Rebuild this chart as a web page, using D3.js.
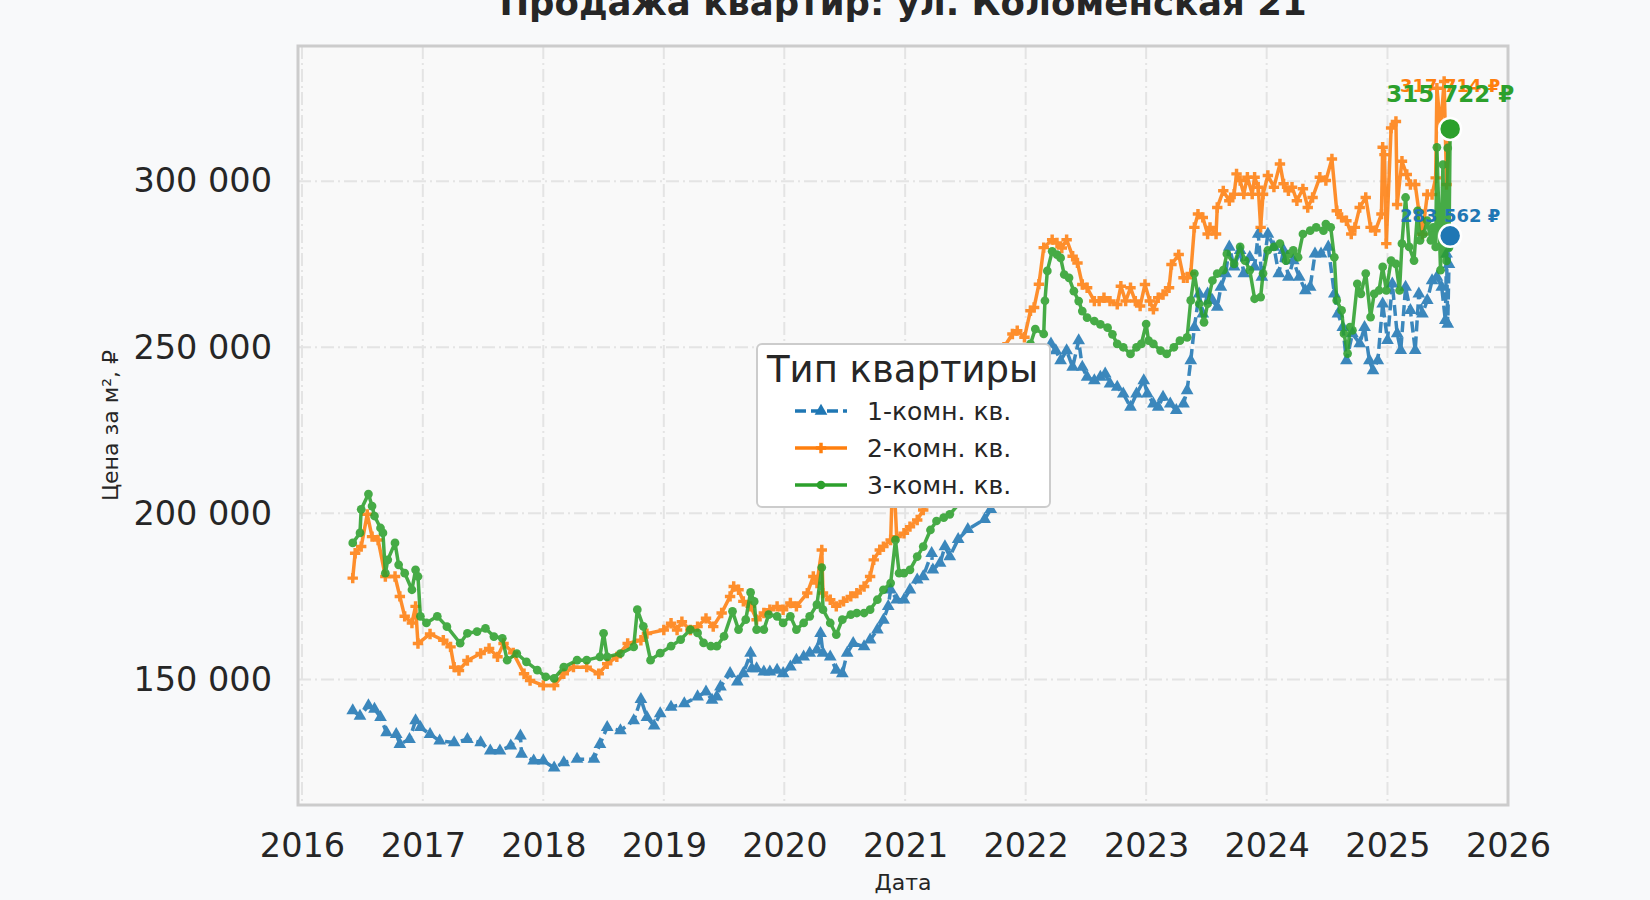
<!DOCTYPE html>
<html>
<head>
<meta charset="utf-8">
<script src="https://cdn.jsdelivr.net/npm/d3@7"></script>
<style>
  body { margin: 0; background: #f8f9fa; }
  svg { display: block; font-family: "DejaVu Sans", sans-serif; }
</style>
</head>
<body>
<div id="chart"></div>
<script>
// Data (decimal year, price per m2)
const seriesNames = ["1-комн. кв.", "2-комн. кв.", "3-комн. кв."];
const yearTicks = [2016, 2017, 2018, 2019, 2020, 2021, 2022, 2023, 2024, 2025, 2026];
const priceTicks = [150000, 200000, 250000, 300000];

const room1 = [
  [2016.42,140600],[2016.48,139000],[2016.55,142100],[2016.60,141100],[2016.65,138600],[2016.70,134000],
  [2016.78,133500],[2016.81,130500],[2016.89,132000],[2016.94,137600],[2016.98,135600],[2017.06,133500],
  [2017.14,131500],[2017.26,131000],[2017.37,132000],[2017.48,131000],[2017.56,128500],[2017.64,128500],
  [2017.73,130000],[2017.81,133000],[2017.82,127500],[2017.92,125500],[2018.00,125500],[2018.09,123400],
  [2018.17,125000],[2018.28,126000],[2018.42,126000],[2018.47,130500],[2018.53,135600],[2018.64,134600],
  [2018.75,137600],[2018.81,144000],[2018.86,138600],[2018.92,136000],[2018.97,139700],[2019.06,141700],
  [2019.17,142700],[2019.28,144800],[2019.35,146300],[2019.40,143800],[2019.44,144800],[2019.47,147800],
  [2019.55,151800],[2019.61,149300],[2019.66,151800],[2019.72,157900],[2019.73,153300],[2019.77,153300],
  [2019.83,152300],[2019.88,152300],[2019.94,152800],[2019.99,151800],[2020.05,153800],[2020.10,155800],
  [2020.16,156800],[2020.21,157900],[2020.27,158900],[2020.30,163900],[2020.32,157900],[2020.38,156800],
  [2020.43,152800],[2020.48,151800],[2020.52,157900],[2020.57,160900],[2020.66,159900],[2020.71,161900],
  [2020.77,164900],[2020.82,167900],[2020.86,172000],[2020.88,177000],[2020.93,174000],[2020.99,174000],
  [2021.04,177000],[2021.10,180000],[2021.15,181000],[2021.22,188000],[2021.23,183000],[2021.29,185000],
  [2021.33,190000],[2021.37,187000],[2021.44,192200],[2021.52,195200],[2021.66,198200],[2021.71,201200],
  [2021.80,210000],[2021.90,225000],[2022.00,238000],[2022.10,246000],[2022.16,249000],[2022.21,251000],
  [2022.25,249000],[2022.29,246000],[2022.34,249000],[2022.39,244000],[2022.44,252000],[2022.47,244000],
  [2022.51,241000],[2022.57,240000],[2022.62,241000],[2022.66,242000],[2022.70,239000],[2022.76,238000],
  [2022.81,236000],[2022.87,232000],[2022.92,236000],[2022.98,240000],[2023.01,236000],[2023.06,233000],
  [2023.10,232000],[2023.14,235000],[2023.20,233000],[2023.25,231000],[2023.31,233000],[2023.34,237000],
  [2023.37,246000],[2023.40,256000],[2023.44,266100],[2023.47,260100],[2023.51,266100],[2023.55,264100],
  [2023.59,262100],[2023.62,268100],[2023.66,272200],[2023.69,280200],[2023.73,274200],[2023.78,279200],
  [2023.81,272200],[2023.86,277100],[2023.90,274200],[2023.93,284100],[2023.96,271100],[2024.01,284100],
  [2024.06,280200],[2024.10,272200],[2024.14,279200],[2024.18,271100],[2024.22,276100],[2024.27,271100],
  [2024.32,267100],[2024.36,268100],[2024.40,278100],[2024.45,278100],[2024.51,280200],[2024.56,266100],
  [2024.59,260100],[2024.63,256000],[2024.66,246000],[2024.71,254100],[2024.77,251100],[2024.81,256000],
  [2024.85,246000],[2024.88,243000],[2024.92,246000],[2024.96,263100],[2025.00,252100],[2025.04,269100],
  [2025.08,254100],[2025.11,249100],[2025.15,268100],[2025.19,261100],[2025.23,249100],[2025.26,266100],
  [2025.29,260100],[2025.33,264100],[2025.37,270100],[2025.41,271100],[2025.45,268100],[2025.48,258100],
  [2025.49,278100],[2025.50,257000],[2025.51,275000],[2025.52,283562]
];

const room2 = [
  [2016.42,180500],[2016.44,188000],[2016.49,190000],[2016.54,199700],[2016.58,193000],[2016.63,192000],
  [2016.69,181000],[2016.77,181000],[2016.81,175000],[2016.85,169000],[2016.91,167000],[2016.94,172000],
  [2016.96,160800],[2017.06,163700],[2017.17,161800],[2017.23,159800],[2017.26,153700],[2017.30,152700],
  [2017.37,155700],[2017.48,157800],[2017.55,159300],[2017.62,156800],[2017.67,160800],[2017.75,158000],
  [2017.84,151700],[2017.89,149700],[2018.00,148200],[2018.09,148200],[2018.17,151700],[2018.25,153700],
  [2018.36,153700],[2018.46,151700],[2018.53,154700],[2018.61,156800],[2018.70,160800],[2018.81,161800],
  [2018.86,163800],[2019.00,164900],[2019.06,166900],[2019.11,164900],[2019.15,167400],[2019.22,164900],
  [2019.28,165900],[2019.35,168400],[2019.41,165900],[2019.48,170000],[2019.55,175000],[2019.58,178000],
  [2019.62,177000],[2019.66,173500],[2019.72,172000],[2019.77,168000],[2019.83,170000],[2019.88,171000],
  [2019.94,172000],[2019.99,171000],[2020.05,173000],[2020.10,172000],[2020.19,176000],[2020.24,181000],
  [2020.27,179000],[2020.31,189000],[2020.32,176000],[2020.38,174000],[2020.43,172000],[2020.49,173500],
  [2020.55,175000],[2020.60,176000],[2020.66,178000],[2020.71,181000],[2020.74,186000],[2020.79,189000],
  [2020.82,190000],[2020.88,192000],[2020.90,215000],[2020.93,193000],[2020.99,194000],[2021.04,196000],
  [2021.10,198000],[2021.15,201000],[2021.23,205000],[2021.32,209000],[2021.37,211000],[2021.45,216000],
  [2021.55,222000],[2021.65,230000],[2021.75,240000],[2021.82,250000],[2021.89,254000],[2021.93,255000],
  [2021.99,253000],[2022.04,261000],[2022.07,262000],[2022.11,269000],[2022.15,280000],[2022.22,282400],
  [2022.26,281400],[2022.30,279900],[2022.34,282400],[2022.39,277400],[2022.43,275400],[2022.47,268900],
  [2022.51,267900],[2022.57,263900],[2022.61,263900],[2022.65,264900],[2022.70,263900],[2022.76,262900],
  [2022.79,268400],[2022.83,263900],[2022.87,267900],[2022.91,263900],[2022.95,262400],[2022.99,268900],
  [2023.03,263900],[2023.06,261400],[2023.10,264900],[2023.14,265900],[2023.19,267900],[2023.21,274900],
  [2023.27,277900],[2023.31,270900],[2023.34,270900],[2023.37,272200],[2023.40,286100],[2023.43,290100],
  [2023.47,289100],[2023.51,284100],[2023.53,286100],[2023.58,284100],[2023.59,292100],[2023.64,297100],
  [2023.69,294100],[2023.73,296100],[2023.75,302200],[2023.78,300200],[2023.81,296100],[2023.84,301200],
  [2023.88,296100],[2023.90,301200],[2023.93,298200],[2023.95,286100],[2023.97,296100],[2024.01,301700],
  [2024.06,298200],[2024.11,305200],[2024.14,299200],[2024.18,297100],[2024.21,298200],[2024.25,294100],
  [2024.30,297700],[2024.34,292100],[2024.38,295100],[2024.44,301200],[2024.49,300200],[2024.54,306700],
  [2024.58,291100],[2024.62,289100],[2024.66,288100],[2024.70,284100],[2024.73,286100],[2024.77,292100],
  [2024.82,295100],[2024.86,286100],[2024.90,285100],[2024.95,290100],[2024.96,310200],[2024.975,308000],
  [2024.99,281200],[2025.03,316000],[2025.07,318000],[2025.08,293000],[2025.12,306000],[2025.16,302000],
  [2025.19,299000],[2025.23,299000],[2025.26,291000],[2025.29,284000],[2025.33,296000],[2025.37,296000],
  [2025.40,301000],[2025.41,328000],[2025.44,316000],[2025.47,330000],[2025.49,299000],[2025.52,317714]
];

const room3 = [
  [2016.42,191100],[2016.48,194100],[2016.49,201200],[2016.55,205800],[2016.58,202200],[2016.60,199200],
  [2016.65,195600],[2016.67,194100],[2016.69,182000],[2016.71,186000],[2016.77,191100],[2016.80,184500],
  [2016.85,182000],[2016.91,177000],[2016.94,183000],[2016.96,181000],[2016.98,169000],[2017.03,167000],
  [2017.12,169000],[2017.20,165900],[2017.31,160900],[2017.37,163900],[2017.45,164400],[2017.52,165400],
  [2017.59,162900],[2017.66,162400],[2017.70,155800],[2017.78,157800],[2017.86,155300],[2017.95,152800],
  [2018.02,150800],[2018.09,150300],[2018.17,153700],[2018.28,155800],[2018.36,155800],[2018.47,156800],
  [2018.50,163900],[2018.53,156800],[2018.64,157800],[2018.75,159800],[2018.78,171000],[2018.83,166000],
  [2018.89,155800],[2018.97,157900],[2019.06,160000],[2019.14,162000],[2019.22,165000],[2019.28,164000],
  [2019.33,161000],[2019.39,160000],[2019.44,160000],[2019.50,163000],[2019.57,170500],[2019.62,165000],
  [2019.68,168000],[2019.72,176200],[2019.75,173500],[2019.77,165000],[2019.83,165000],[2019.87,169500],
  [2019.94,169000],[2019.99,167000],[2020.05,169000],[2020.10,165000],[2020.16,167000],[2020.21,169000],
  [2020.27,172500],[2020.31,183700],[2020.32,171000],[2020.38,167000],[2020.43,163500],[2020.48,168000],
  [2020.55,169500],[2020.60,170000],[2020.66,170000],[2020.71,171000],[2020.77,174000],[2020.82,177000],
  [2020.88,179000],[2020.92,192000],[2020.95,182000],[2020.99,182000],[2021.04,183000],[2021.10,187000],
  [2021.15,190000],[2021.21,195000],[2021.26,197700],[2021.32,198700],[2021.37,199700],[2021.45,203000],
  [2021.55,208000],[2021.65,215000],[2021.75,228000],[2021.85,240000],[2021.95,246000],[2022.04,251000],
  [2022.08,255500],[2022.15,254000],[2022.16,264000],[2022.18,273000],[2022.22,278900],[2022.26,277900],
  [2022.29,276900],[2022.32,271900],[2022.36,270900],[2022.40,266900],[2022.44,263900],[2022.47,260900],
  [2022.51,258900],[2022.57,257900],[2022.62,256900],[2022.68,255900],[2022.72,253900],[2022.76,251000],
  [2022.81,250000],[2022.87,248000],[2022.92,250000],[2022.96,251000],[2023.00,257000],[2023.02,252000],
  [2023.06,251000],[2023.12,249000],[2023.17,248000],[2023.23,250000],[2023.28,252000],[2023.34,253000],
  [2023.37,264100],[2023.40,272200],[2023.44,263100],[2023.48,257500],[2023.51,263100],[2023.55,270100],
  [2023.59,272200],[2023.64,273200],[2023.67,278100],[2023.73,275100],[2023.78,280200],[2023.82,276100],
  [2023.86,273200],[2023.90,264600],[2023.95,265100],[2023.97,272200],[2024.01,279200],[2024.06,280200],
  [2024.11,281200],[2024.16,276100],[2024.19,278100],[2024.22,279200],[2024.26,277100],[2024.30,284100],
  [2024.36,285100],[2024.41,286100],[2024.47,285100],[2024.49,287100],[2024.53,286100],[2024.56,277100],
  [2024.58,264100],[2024.62,261100],[2024.64,254100],[2024.67,248100],[2024.69,256100],[2024.71,255100],
  [2024.75,269100],[2024.78,266100],[2024.82,272200],[2024.86,259100],[2024.89,266100],[2024.93,267100],
  [2024.96,274200],[2024.99,267100],[2025.03,276100],[2025.07,275100],[2025.10,267100],[2025.12,281200],
  [2025.15,295100],[2025.18,280200],[2025.22,276100],[2025.25,291100],[2025.27,282200],[2025.30,284100],
  [2025.33,288100],[2025.36,282200],[2025.38,286100],[2025.40,280200],[2025.41,310200],[2025.44,273200],
  [2025.46,305000],[2025.47,278000],[2025.48,298200],[2025.49,276000],[2025.50,310000],[2025.51,280000],
  [2025.52,315722]
];

const series = [room1, room2, room3];
const colors = ["#1f77b4", "#ff7f0e", "#2ca02c"];

// Layout
const W = 1650, H = 900;
const plot = { left: 298, right: 1508, top: 46, bottom: 805 };

const toDate = t => {
  const yr = Math.floor(t);
  const a = new Date(yr, 0, 1), b = new Date(yr + 1, 0, 1);
  return new Date(+a + (t - yr) * (b - a));
};

const x = d3.scaleTime()
  .domain([toDate(2015.967), toDate(2026.0)])
  .range([plot.left, plot.right]);

const y = d3.scaleLinear()
  .domain([112200, 340700])
  .range([plot.bottom, plot.top]);

const ru = d3.formatLocale({ decimal: ",", thousands: "\u00a0", grouping: [3], currency: ["", " ₽"] });
const fmt = ru.format(",d");

const svg = d3.select("#chart").append("svg")
  .attr("width", W)
  .attr("height", H);

svg.append("rect").attr("width", W).attr("height", H).attr("fill", "#f8f9fa");

// Plot background
svg.append("rect")
  .attr("x", plot.left).attr("y", plot.top)
  .attr("width", plot.right - plot.left).attr("height", plot.bottom - plot.top)
  .attr("fill", "#f9f9f9");

// Grid
const grid = svg.append("g")
  .attr("stroke", "#e4e4e4")
  .attr("stroke-width", 2)
  .attr("stroke-dasharray", "13,4,2,4");

grid.selectAll("line.vx")
  .data(yearTicks)
  .join("line")
  .attr("x1", d => x(new Date(d, 0, 1)))
  .attr("x2", d => x(new Date(d, 0, 1)))
  .attr("y1", plot.top)
  .attr("y2", plot.bottom);

grid.selectAll("line.hy")
  .data(priceTicks)
  .join("line")
  .attr("x1", plot.left)
  .attr("x2", plot.right)
  .attr("y1", d => y(d))
  .attr("y2", d => y(d));

// Axes
const xAxis = svg.append("g")
  .attr("transform", `translate(0,${plot.bottom})`)
  .call(d3.axisBottom(x).tickValues(yearTicks.map(d => new Date(d, 0, 1)))
    .tickFormat(d3.timeFormat("%Y")).tickSize(0).tickPadding(28));

const yAxis = svg.append("g")
  .attr("transform", `translate(${plot.left},0)`)
  .call(d3.axisLeft(y).tickValues(priceTicks).tickFormat(fmt).tickSize(0).tickPadding(26));

[xAxis, yAxis].forEach(g => {
  g.select(".domain").remove();
  g.selectAll("text")
    .attr("font-family", "DejaVu Sans")
    .attr("font-size", 33.5)
    .attr("fill", "#262626");
});

// Plot frame
svg.append("rect")
  .attr("x", plot.left).attr("y", plot.top)
  .attr("width", plot.right - plot.left).attr("height", plot.bottom - plot.top)
  .attr("fill", "none")
  .attr("stroke", "#cccccc")
  .attr("stroke-width", 3);

// Axis titles
svg.append("text")
  .attr("x", (plot.left + plot.right) / 2)
  .attr("y", 890)
  .attr("text-anchor", "middle")
  .attr("font-size", 22)
  .attr("fill", "#262626")
  .text("Дата");

svg.append("text")
  .attr("transform", `translate(110,${(plot.top + plot.bottom) / 2}) rotate(-90)`)
  .attr("text-anchor", "middle")
  .attr("dominant-baseline", "central")
  .attr("font-size", 22)
  .attr("fill", "#262626")
  .text("Цена за м², ₽");

// Title (partly cut by the top edge)
svg.append("text")
  .attr("x", (plot.left + plot.right) / 2)
  .attr("y", 15)
  .attr("text-anchor", "middle")
  .attr("font-size", 35.5)
  .attr("font-weight", "bold")
  .attr("fill", "#262626")
  .text("Продажа квартир: ул. Коломенская 21");

// Lines + markers
const line = d3.line()
  .x(d => x(toDate(d[0])))
  .y(d => y(d[1]));

const symbols = [d3.symbolTriangle, d3.symbolCross, d3.symbolCircle];
const symbolSizes = [70, 60, 60];
const dashes = ["11,5", null, null];

svg.append("clipPath").attr("id", "clip")
  .append("rect")
  .attr("x", plot.left).attr("y", plot.top)
  .attr("width", plot.right - plot.left).attr("height", plot.bottom - plot.top);

const dataLayer = svg.append("g").attr("clip-path", "url(#clip)");

series.forEach((s, i) => {
  const g = dataLayer.append("g").attr("opacity", 0.87);
  g.append("path")
    .datum(s)
    .attr("d", line)
    .attr("fill", "none")
    .attr("stroke", colors[i])
    .attr("stroke-width", 3.5)
    .attr("stroke-linejoin", "round")
    .attr("stroke-dasharray", dashes[i]);
  g.selectAll("path.m")
    .data(s)
    .join("path")
    .attr("class", "m")
    .attr("transform", d => `translate(${x(toDate(d[0]))},${y(d[1])})`)
    .attr("d", d3.symbol(symbols[i], symbolSizes[i]))
    .attr("fill", colors[i]);
});

// Last-value markers and labels
const labelSizes = [18, 18, 23];
const labelOffsets = [-14, -30, -27];

[0, 2].forEach(i => {
  const last = series[i][series[i].length - 1];
  svg.append("circle")
    .attr("cx", x(toDate(last[0])))
    .attr("cy", y(last[1]))
    .attr("r", 11)
    .attr("fill", colors[i])
    .attr("stroke", "#ffffff")
    .attr("stroke-width", 2.5);
});

[0, 1, 2].forEach(i => {
  const last = series[i][series[i].length - 1];
  svg.append("text")
    .attr("x", x(toDate(last[0])))
    .attr("y", y(last[1]) + labelOffsets[i])
    .attr("text-anchor", "middle")
    .attr("font-size", labelSizes[i])
    .attr("font-weight", "bold")
    .attr("fill", colors[i])
    .text(`${fmt(last[1])} ₽`);
});

// Legend
const lg = svg.append("g").attr("transform", "translate(757,344)");
lg.append("rect")
  .attr("width", 293).attr("height", 163)
  .attr("rx", 5)
  .attr("fill", "#ffffff")
  .attr("stroke", "#cccccc")
  .attr("stroke-width", 2);

lg.append("text")
  .attr("x", 10).attr("y", 38)
  .attr("font-size", 37)
  .attr("fill", "#262626")
  .text("Тип квартиры");

const entries = lg.selectAll("g.entry")
  .data(seriesNames)
  .join("g")
  .attr("transform", (d, i) => `translate(0,${67 + i * 37})`);

entries.append("line")
  .attr("x1", 38).attr("x2", 90)
  .attr("stroke", (d, i) => colors[i])
  .attr("stroke-width", 3.5)
  .attr("stroke-dasharray", (d, i) => dashes[i]);

entries.append("path")
  .attr("transform", "translate(64,0)")
  .attr("d", (d, i) => d3.symbol(symbols[i], symbolSizes[i])())
  .attr("fill", (d, i) => colors[i]);

entries.append("text")
  .attr("x", 110)
  .attr("dy", "0.35em")
  .attr("font-size", 25)
  .attr("fill", "#262626")
  .text(d => d);
</script>
</body>
</html>
